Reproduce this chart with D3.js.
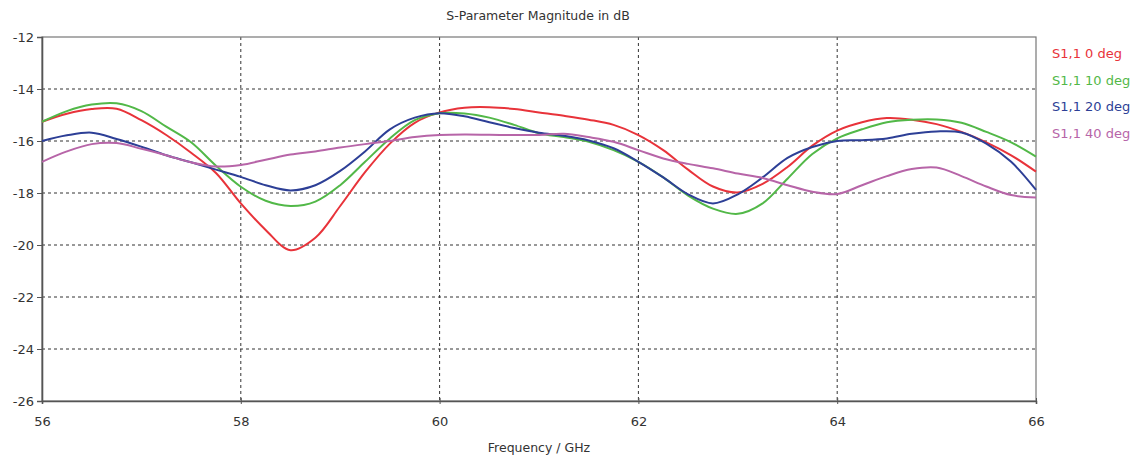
<!DOCTYPE html>
<html><head><meta charset="utf-8">
<script src="https://cdn.jsdelivr.net/npm/d3@7"></script>
<style>body{margin:0;background:#fff}svg{display:block}text{font-family:"DejaVu Sans",sans-serif}</style>
</head><body><svg id="c" width="1143" height="460"></svg>
<script>
const freqs = [56,56.25,56.5,56.75,57,57.25,57.5,57.75,58,58.25,58.5,58.75,59,59.25,59.5,59.75,60,60.25,60.5,60.75,61,61.25,61.5,61.75,62,62.25,62.5,62.75,63,63.25,63.5,63.75,64,64.25,64.5,64.75,65,65.25,65.5,65.75,66];
const s0deg = [-15.26,-14.95,-14.77,-14.76,-15.2,-15.77,-16.45,-17.23,-18.4,-19.42,-20.2,-19.72,-18.5,-17.2,-16.1,-15.3,-14.9,-14.72,-14.7,-14.77,-14.9,-15.03,-15.18,-15.38,-15.77,-16.35,-17.1,-17.75,-17.98,-17.65,-17.0,-16.18,-15.6,-15.28,-15.12,-15.18,-15.35,-15.65,-16.05,-16.55,-17.18];
const s10deg = [-15.26,-14.85,-14.6,-14.55,-14.85,-15.45,-16.05,-16.95,-17.76,-18.3,-18.5,-18.33,-17.7,-16.8,-15.9,-15.2,-14.93,-14.94,-15.1,-15.38,-15.7,-15.85,-16.03,-16.35,-16.8,-17.4,-18.1,-18.6,-18.8,-18.4,-17.45,-16.5,-15.9,-15.55,-15.28,-15.18,-15.17,-15.3,-15.65,-16.05,-16.6];
const s20deg = [-16.0,-15.78,-15.68,-15.92,-16.22,-16.55,-16.82,-17.1,-17.38,-17.7,-17.9,-17.7,-17.15,-16.4,-15.55,-15.1,-14.93,-15.05,-15.28,-15.5,-15.68,-15.8,-15.98,-16.28,-16.8,-17.4,-18.05,-18.4,-18.05,-17.4,-16.65,-16.23,-16.0,-15.97,-15.9,-15.72,-15.63,-15.67,-16.1,-16.8,-17.88];
const s40deg = [-16.8,-16.4,-16.12,-16.08,-16.3,-16.55,-16.82,-16.98,-16.92,-16.72,-16.52,-16.4,-16.25,-16.12,-16.0,-15.85,-15.77,-15.75,-15.76,-15.77,-15.77,-15.72,-15.85,-16.03,-16.35,-16.67,-16.88,-17.05,-17.25,-17.42,-17.7,-17.95,-18.04,-17.7,-17.35,-17.08,-17.02,-17.35,-17.75,-18.08,-18.17];
const seriesNames = ["S1,1 0 deg","S1,1 10 deg","S1,1 20 deg","S1,1 40 deg"];
const seriesColors = ["#e8333a","#52b848","#2d3f96","#b765a8"];
const xTicks = [56,58,60,62,64,66];
const yTicks = [-12,-14,-16,-18,-20,-22,-24,-26];
const title = "S-Parameter Magnitude in dB";
const xLabel = "Frequency / GHz";

const svg = d3.select("#c");
const L=42,R=1036,T=37,B=401;
const x = d3.scaleLinear().domain([56,66]).range([L,R]);
const y = d3.scaleLinear().domain([-26,-12]).range([B,T]);

// grid
const g = svg.append("g");
g.selectAll(".gx").data(xTicks.slice(1,-1)).join("line")
  .attr("x1",d=>x(d)).attr("x2",d=>x(d)).attr("y1",T).attr("y2",B)
  .attr("stroke","#333").attr("stroke-width",1).attr("stroke-dasharray","3,3");
g.selectAll(".gy").data(yTicks.slice(1,-1)).join("line")
  .attr("y1",d=>y(d)).attr("y2",d=>y(d)).attr("x1",L).attr("x2",R)
  .attr("stroke","#333").attr("stroke-width",1).attr("stroke-dasharray","3,3");

// frame
svg.append("rect").attr("x",L).attr("y",T).attr("width",R-L).attr("height",B-T)
  .attr("fill","none").attr("stroke","#777").attr("stroke-width",1.2);

// axes
const fmt = d => String(d);
const xa = svg.append("g").attr("transform",`translate(0,${B})`)
  .call(d3.axisBottom(x).tickValues(xTicks).tickSize(3).tickPadding(13).tickFormat(fmt));
const ya = svg.append("g").attr("transform",`translate(${L},0)`)
  .call(d3.axisLeft(y).tickValues(yTicks).tickSize(5).tickPadding(3).tickFormat(fmt));
[xa,ya].forEach(a=>{
  a.select(".domain").attr("stroke","#555").attr("stroke-width",1.6);
  a.selectAll(".tick line").attr("stroke","#555");
  a.selectAll("text").attr("font-size",13).attr("fill","#333").attr("font-family","DejaVu Sans");
});
xa.selectAll(".tick line").attr("y1",-3).attr("y2",3);

// lines
const all = [s0deg,s10deg,s20deg,s40deg];
const line = d3.line().x((d,i)=>x(freqs[i])).y(d=>y(d)).curve(d3.curveCatmullRom.alpha(0.5));
svg.append("g").selectAll("path").data(all).join("path")
  .attr("d",d=>line(d)).attr("fill","none")
  .attr("stroke",(d,i)=>seriesColors[i]).attr("stroke-width",2);

// title & labels
svg.append("text").attr("x",538).attr("y",20).attr("text-anchor","middle")
  .attr("font-size",12.5).attr("fill","#333").text(title);
svg.append("text").attr("x",539).attr("y",452).attr("text-anchor","middle")
  .attr("font-size",12.5).attr("fill","#333").text(xLabel);

// legend
svg.append("g").selectAll("text").data(seriesNames).join("text")
  .attr("x",1052).attr("y",(d,i)=>58+i*26.5)
  .attr("font-size",13).attr("fill",(d,i)=>seriesColors[i]).text(d=>d);
</script></body></html>
